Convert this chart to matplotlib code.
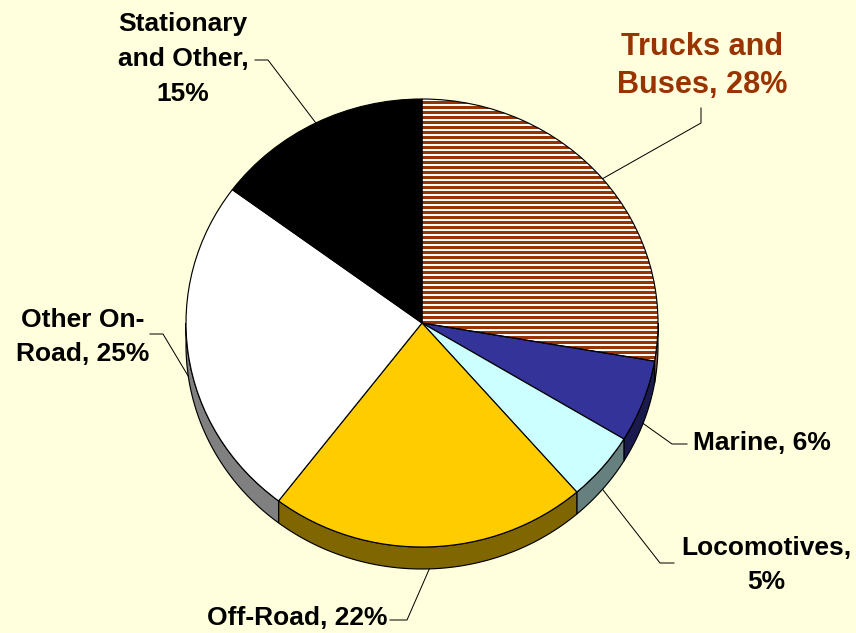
import numpy as np
import matplotlib.pyplot as plt
from matplotlib.patches import Polygon, Wedge

# emission shares by source (percent)
names = ['Trucks and\nBuses', 'Marine', 'Locomotives', 'Off-Road', 'Other On-\nRoad', 'Stationary\nand Other']
shares = [28, 6, 5, 22, 25, 15]
seps = [' ', ' ', '\n', ' ', ' ', '\n']
top_colors = ['#FFFFFF', '#333399', '#CCFFFF', '#FFCC00', '#FFFFFF', '#000000']
side_colors = ['#8C5A40', '#1A1A4D', '#668080', '#806600', '#808080', '#000000']

plt.rcParams['font.family'] = ['Liberation Sans', 'DejaVu Sans']
plt.rcParams['font.weight'] = 'bold'
plt.rcParams['hatch.linewidth'] = 1.8

W, H, dpi = 856, 633, 120
cx, cy, rx, ry, depth = 422, 323, 236, 224, 22
d = depth / ry

def to_data(px, py):
    return (px - cx) / rx, (cy - py) / ry

fig = plt.figure(figsize=(W / dpi, H / dpi), dpi=dpi, facecolor='#FFFFDD')
ax = fig.add_axes([0, 0, 1, 1])
ax.set_facecolor('#FFFFDD')

wedges, _ = ax.pie(shares, startangle=90, counterclock=False, colors=top_colors,
                   radius=1, center=(0, 0), frame=True,
                   wedgeprops=dict(edgecolor='black', linewidth=0.7, zorder=2))
ax.set_aspect('auto')
ax.set_xlim(-cx / rx, (W - cx) / rx)
ax.set_ylim(-(H - cy) / ry, cy / ry)
ax.axis('off')

# side walls of the front half
for w, sc in zip(wedges, side_colors):
    a, b = w.theta1, w.theta2
    for k in (-1, 0, 1):
        lo, hi = max(a, k * 360 - 180), min(b, k * 360)
        if hi <= lo:
            continue
        t = np.radians(np.linspace(lo, hi, 120))
        xs = np.concatenate([np.cos(t), np.cos(t[::-1])])
        ys = np.concatenate([np.sin(t), np.sin(t[::-1]) - d])
        ax.add_patch(Polygon(np.column_stack([xs, ys]), closed=True, facecolor=sc,
                             edgecolor='black', linewidth=0.7, zorder=1))

# hatched trucks slice
tw = wedges[0]
tw.set_facecolor('white')
tw.set_edgecolor('#993300')
tw.set_linewidth(0)
tw.set_hatch('----')
ax.add_patch(Wedge((0, 0), 1, tw.theta1, tw.theta2, fill=False,
                   edgecolor='black', linewidth=0.7, zorder=3))

# label layout: text position (px), alignment, elbow points (px)
layout = [
    ((702, 66), 'center', [(701, 123), (701, 108)]),
    ((693, 443), 'left', [(672, 444), (687, 444)]),
    ((766, 565), 'center', [(660, 563), (674, 563)]),
    ((297, 618), 'center', [(407, 620), (390, 620)]),
    ((83, 337), 'center', [(163, 334), (150, 334)]),
    ((183, 59), 'center', [(268, 60), (255, 60)]),
]

for i, (w, (pos, ha, elbow)) in enumerate(zip(wedges, layout)):
    m = np.radians((w.theta1 + w.theta2) / 2)
    ax_, ay_ = np.cos(m), np.sin(m)
    if ay_ < 0:
        ay_ -= d
    pts = [(ax_, ay_)] + [to_data(*p) for p in elbow]
    ax.plot([p[0] for p in pts], [p[1] for p in pts], color='black', lw=0.6, zorder=4)
    tx, ty = to_data(*pos)
    color = '#993300' if i == 0 else 'black'
    size = 18.4 if i == 0 else 15.8
    ax.text(tx, ty, f'{names[i]},{seps[i]}{shares[i]}%', ha=ha, va='center',
            multialignment='center', color=color, fontsize=size, fontweight='bold',
            linespacing=1.38 if i == 0 else 1.57, zorder=5)

fig.savefig('out.png', dpi=dpi, facecolor=fig.get_facecolor())
